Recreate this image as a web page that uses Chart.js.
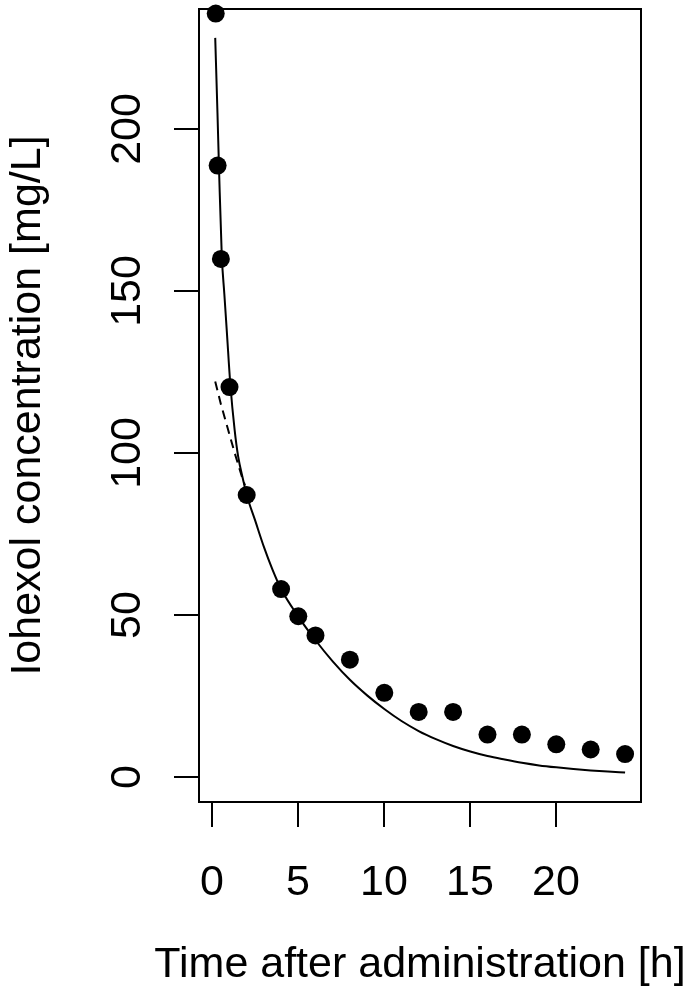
<!DOCTYPE html>
<html>
<head>
<meta charset="utf-8">
<title>Iohexol concentration</title>
<script src="https://cdn.jsdelivr.net/npm/chart.js@4.4.1/dist/chart.umd.min.js"></script>
<style>
    html, body { margin: 0; padding: 0; background: #fff; }
    #wrap { width: 685px; height: 988px; position: relative; }
</style>
</head>
<body>
<div id="wrap"><canvas id="pk-chart"></canvas></div>
<script>
// Observed samples
const obsTime = [0.2, 0.31, 0.5, 1, 2, 4, 5, 6, 8, 10, 12, 14, 16, 18, 20, 22, 24];
const obsConc = [235.5, 188.6, 159.8, 120.3, 87, 58, 49.6, 43.7, 36.2, 26, 20.1, 20.1, 13.1, 13.1, 10.1, 8.5, 7.1];

// Fitted curve (solid)
const fitTime = [0.17, 0.3, 0.4, 0.55, 0.7, 0.85, 1.05, 1.3, 1.5, 1.8, 2, 2.5, 3, 3.5, 4, 5, 6, 7, 8, 9, 10, 11, 12, 13, 14, 15, 16, 17, 18, 19, 20, 21, 22, 23, 24];
const fitConc = [228, 205, 186, 161, 149, 137, 121, 107, 99, 91.5, 87, 79, 71, 64, 58, 49.5, 42.2, 35.7, 30, 25.2, 21, 17.3, 14.2, 11.7, 9.6, 7.9, 6.5, 5.4, 4.4, 3.6, 3.0, 2.5, 2.05, 1.7, 1.4];

// Terminal phase (dashed), only visible before it joins the solid curve
const termTime = [0.17, 0.5, 0.9, 1.3, 1.7, 1.9];
const termConc = [122, 115, 107.5, 100, 93, 90];

// Axis ticks and labels
const xTicks = [0, 5, 10, 15, 20];
const yTicks = [0, 50, 100, 150, 200];
const xTitle = 'Time after administration [h]';
const yTitle = 'Iohexol concentration [mg/L]';

const FONT = '43px "Liberation Sans", Arial, Helvetica, sans-serif';

const toPoints = (xs, ys) => xs.map((x, i) => ({ x: x, y: ys[i] }));

// R style box, ticks and labels
const baseAxes = {
    id: 'baseAxes',
    beforeDatasetsDraw(chart) {
        const { ctx, chartArea: a } = chart;
        ctx.save();
        ctx.strokeStyle = '#000';
        ctx.lineWidth = 2;
        ctx.strokeRect(a.left, a.top, a.right - a.left, a.bottom - a.top);
        ctx.restore();
    },
    afterDraw(chart) {
        const { ctx, chartArea: a, scales } = chart;
        const tickLen = 25;
        ctx.save();
        ctx.strokeStyle = '#000';
        ctx.fillStyle = '#000';
        ctx.lineWidth = 2;
        ctx.font = FONT;

        // x axis
        ctx.textAlign = 'center';
        ctx.textBaseline = 'alphabetic';
        xTicks.forEach(v => {
            const px = Math.round(scales.x.getPixelForValue(v));
            ctx.beginPath();
            ctx.moveTo(px, a.bottom);
            ctx.lineTo(px, a.bottom + tickLen);
            ctx.stroke();
            ctx.fillText(String(v), px, 895);
        });
        ctx.fillText(xTitle, (a.left + a.right) / 2, 977);

        // y axis, labels read bottom to top
        yTicks.forEach(v => {
            const py = Math.round(scales.y.getPixelForValue(v));
            ctx.beginPath();
            ctx.moveTo(a.left, py);
            ctx.lineTo(a.left - tickLen, py);
            ctx.stroke();
            ctx.save();
            ctx.translate(140, py);
            ctx.rotate(-Math.PI / 2);
            ctx.fillText(String(v), 0, 0);
            ctx.restore();
        });
        ctx.save();
        ctx.translate(40, (a.top + a.bottom) / 2);
        ctx.rotate(-Math.PI / 2);
        ctx.fillText(yTitle, 0, 0);
        ctx.restore();

        ctx.restore();
    }
};

new Chart(document.getElementById('pk-chart'), {
    type: 'scatter',
    data: {
        datasets: [
            {
                label: 'Fit',
                data: toPoints(fitTime, fitConc),
                showLine: true,
                borderColor: '#000',
                borderWidth: 2,
                pointRadius: 0,
                cubicInterpolationMode: 'monotone',
                fill: false
            },
            {
                label: 'Terminal phase',
                data: toPoints(termTime, termConc),
                showLine: true,
                borderColor: '#000',
                borderWidth: 2,
                borderDash: [9, 6],
                pointRadius: 0,
                fill: false
            },
            {
                label: 'Observed',
                data: toPoints(obsTime, obsConc),
                showLine: false,
                pointRadius: 9,
                pointBackgroundColor: '#000',
                pointBorderColor: '#000',
                pointBorderWidth: 0,
                clip: false
            }
        ]
    },
    options: {
        responsive: true,
        maintainAspectRatio: false,
        animation: false,
        devicePixelRatio: 1,
        layout: {
            padding: { left: 199, right: 44, top: 7, bottom: 186 }
        },
        plugins: {
            legend: { display: false },
            tooltip: { enabled: false }
        },
        scales: {
            x: {
                type: 'linear',
                min: -0.773,
                max: 24.925,
                display: false
            },
            y: {
                type: 'linear',
                min: -7.69,
                max: 236.9,
                display: false
            }
        }
    },
    plugins: [baseAxes]
});
</script>
</body>
</html>
